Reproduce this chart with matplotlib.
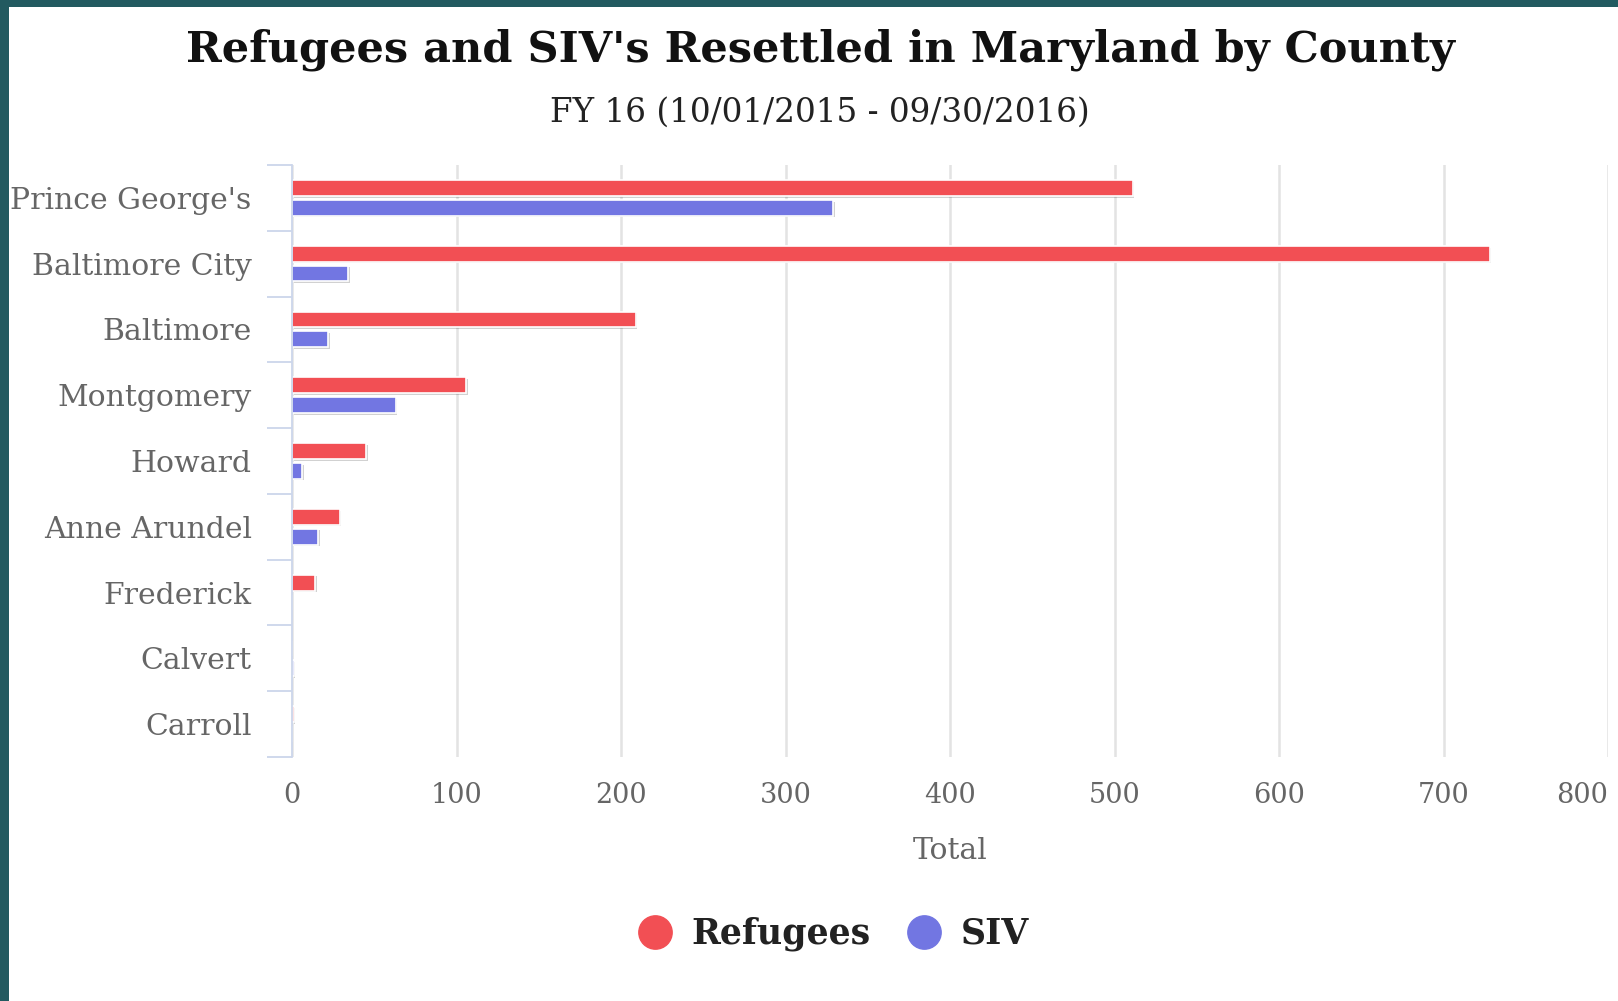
import matplotlib
matplotlib.use("Agg")
import matplotlib.pyplot as plt
import matplotlib.patheffects as pe
from matplotlib.lines import Line2D
from matplotlib.patches import Rectangle
import numpy as np

counties = ["Prince George's", "Baltimore City", "Baltimore", "Montgomery",
            "Howard", "Anne Arundel", "Frederick", "Calvert", "Carroll"]
refugees = [511, 728, 209, 106, 45, 29, 14, 0, 1]
siv = [329, 34, 22, 63, 6, 16, 0, 1, 0]
x_ticks = [0, 100, 200, 300, 400, 500, 600, 700, 800]

title = "Refugees and SIV's Resettled in Maryland by County"
subtitle = "FY 16 (10/01/2015 - 09/30/2016)"
x_title = "Total"
series_names = ["Refugees", "SIV"]
colors = ["#f24f54", "#7276e2"]

W, H = 1618, 1001
fig = plt.figure(figsize=(W / 100, H / 100), dpi=100)
fig.patch.set_facecolor("white")

# dark frame strips along the left and top edges
frame = "#225a60"
fig.patches.append(Rectangle((0, 0), 9 / W, 1, transform=fig.transFigure,
                             facecolor=frame, edgecolor="none", zorder=0))
fig.patches.append(Rectangle((0, 1 - 7 / H), 1, 7 / H, transform=fig.transFigure,
                             facecolor=frame, edgecolor="none", zorder=0))

ax_left, ax_right = 292 / W, 1608 / W
ax_top, ax_bottom = 1 - 165 / H, 1 - 757 / H
ax = fig.add_axes([ax_left, ax_bottom, ax_right - ax_left, ax_top - ax_bottom])
ax.set_facecolor("none")

serif = "DejaVu Serif"
label_grey = "#666666"
axis_col = "#ccd6eb"

n = len(counties)
pos = np.arange(n)
bar_h = 0.24
offset = 0.15
shadow = [pe.SimplePatchShadow(offset=(1.2, -1.2), shadow_rgbFace="black", alpha=0.18),
          pe.Normal()]

for vals, off, col in [(refugees, -offset, colors[0]), (siv, offset, colors[1])]:
    bars = ax.barh(pos + off, vals, height=bar_h, color=col,
                   edgecolor="white", linewidth=1.2, zorder=3)
    for b in bars:
        b.set_path_effects(shadow)

ax.set_xlim(x_ticks[0], x_ticks[-1])
ax.set_ylim(n - 0.5, -0.5)

ax.set_xticks(x_ticks)
xlabels = ax.set_xticklabels([str(t) for t in x_ticks], fontsize=19.5, family=serif,
                             color=label_grey)
# keep the last label inside the chart edge
xlabels[-1].set_horizontalalignment("right")
ax.tick_params(axis="x", length=0, pad=18)
ax.grid(axis="x", color="#e3e3e3", linewidth=1.8, zorder=0)
ax.set_axisbelow(True)

ax.set_yticks(pos)
ax.set_yticklabels(counties, fontsize=21.5, family=serif, color=label_grey)
ax.tick_params(axis="y", which="major", length=0, pad=29)
ax.set_yticks(np.arange(n + 1) - 0.5, minor=True)
ax.tick_params(axis="y", which="minor", length=18, width=1.3, color=axis_col)

for s in ["top", "right", "bottom"]:
    ax.spines[s].set_visible(False)
ax.spines["left"].set_color(axis_col)
ax.spines["left"].set_linewidth(1.3)
ax.spines["left"].set_zorder(4)

ax.set_xlabel(x_title, fontsize=21.5, family=serif, color=label_grey, labelpad=20)

fig.text(0.5 * (178 + 1413) / 1568, 1 - 49.5 / H, title, ha="center", va="center",
         fontsize=31, fontweight="bold", family=serif, color="#111111")
fig.text(0.5 * (535 + 1055) / 1568, 1 - 112.5 / H, subtitle, ha="center", va="center",
         fontsize=23.5, family=serif, color="#222222")

handles = [Line2D([], [], linestyle="none", marker="o", markersize=24,
                  markerfacecolor=c, markeredgecolor=c) for c in colors]
leg = fig.legend(handles, series_names, loc="center",
                 bbox_to_anchor=(833 / W, 1 - 934 / H), ncol=2, frameon=False,
                 prop={"family": serif, "weight": "bold", "size": 25},
                 handletextpad=0.55, columnspacing=1.05, handlelength=1.0)
for t in leg.get_texts():
    t.set_color("#222222")

fig.savefig("out.png", dpi=100, facecolor="white")
